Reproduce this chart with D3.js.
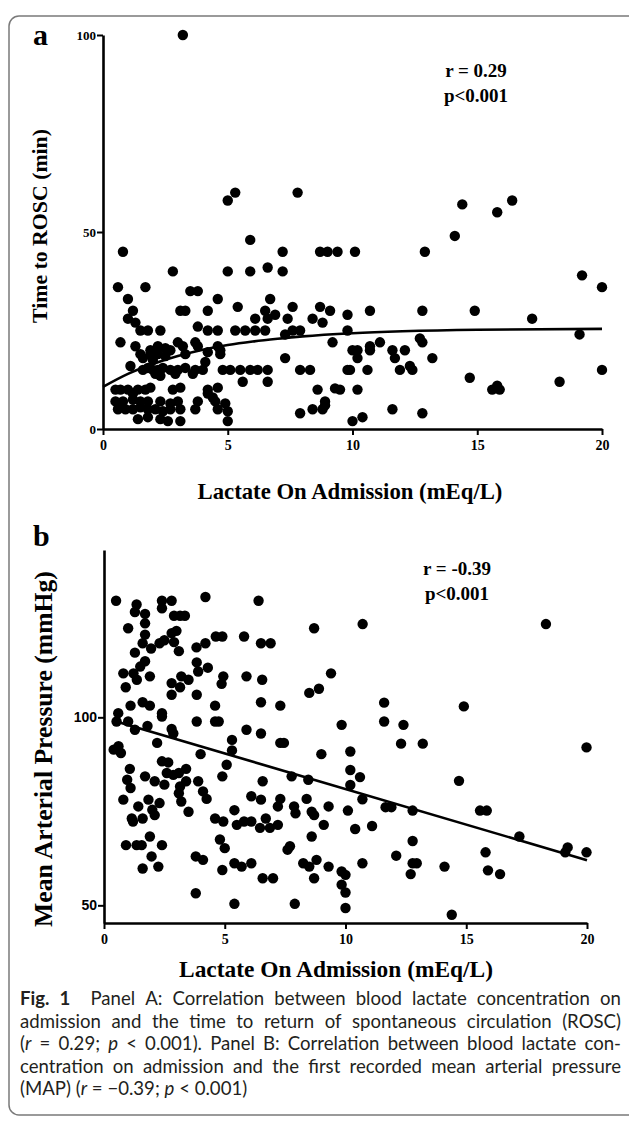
<!DOCTYPE html>
<html><head><meta charset="utf-8">
<script src="https://cdn.jsdelivr.net/npm/d3@7"></script>
<style>body{margin:0;background:#fff}</style>
</head><body>
<script>
// ---------------- data ----------------
const xTicks = [0, 5, 10, 15, 20];
const yTicksA = [0, 50, 100];
const yTicksB = [50, 100];

// Panel A: lactate (mEq/L) vs time to ROSC (min)
const pointsA = [
 [3.2,100],[5.0,58],[5.3,60],[7.8,60],[5.9,48],[0.8,45],[7.2,45],[8.7,45],[9.0,45],[9.4,45],[10.1,45],
 [12.9,45],[14.1,49],[14.4,57],[15.8,55],[16.4,58],[2.8,40],[5.0,40],[5.9,40],[6.6,41],[7.2,40],
 [19.2,39],[20,36],[0.6,36],[1.7,36],[3.5,35],[3.8,35],[1.0,33],[4.6,33],[6.7,33],
 [1.2,30],[3.1,30],[3.3,30],[4.2,30],[5.4,31],[6.5,30],[6.9,29],[7.6,31],[8.7,31],[9.1,30],[9.8,29],
 [10.7,30],[12.8,30],[14.9,30],[17.2,28],[1.0,28],[1.3,27],[6.1,28],[6.6,28],[7.4,28],[8.4,28],[8.8,27],
 [1.5,25],[1.8,25],[2.3,25],[3.8,26],[4.2,25],[4.6,25],[5.3,25],[5.7,25],[6.1,25],[6.5,25],[7.3,24],
 [7.6,25],[7.9,25],[9.8,25],[19.1,24],
 [10.0,20],[10.2,20],[10.2,18],[10.7,21],[10.7,20],[11.1,22],[11.6,20],[11.7,18],[12.1,20],[12.7,23],
 [12.8,22],[13.2,18],[9.8,15],[10.6,15],[11.9,15],[12.3,16],[12.4,15],[14.7,13],[15.6,10],[15.8,11],
 [15.9,10],[18.3,12],[10.2,10],[9.5,10],[11.6,5],[12.8,4],[10.0,2],[10.4,3],[20,15],
 [0.7,22],[3.0,22],[3.7,22],[9.2,22],
 [1.3,21],[1.9,20],[2.2,21],[2.5,20.5],[2.7,20],[3.2,21],[3.8,21],[4.6,21],[4.7,20],
 [1.5,19],[1.9,19],[2.2,19],[2.5,18.5],[3.3,19],[4.2,19.5],[4.7,19],
 [7.3,18],[1.6,18],[2.0,17.5],[4.1,17],
 [1.1,16],[1.6,15],[1.8,15.5],[2.0,15],[2.2,15],[2.4,15.5],[2.7,15],[3.0,15],[3.3,15.5],[3.7,15],
 [4.0,15],[4.8,15],[5.1,15],[5.5,15],[5.9,15],[6.2,15],[6.6,15],[7.9,15],[8.3,15],[9.9,15],
 [2.1,14],[2.3,13.5],[2.9,14],[3.6,14],[5.6,12],[6.6,12],
 [0.5,10],[0.7,10],[1.0,10],[1.4,10],[1.7,10],[1.9,10.5],[2.8,10],[3.1,10.5],[4.2,10],[4.6,10.5],[8.6,10],[9.3,10.3],
 [1.2,9],[4.2,9],[4.4,8],
 [0.5,7],[0.8,7],[1.2,7.5],[1.5,7],[1.8,7],[2.3,7],[2.7,6.5],[3.0,7],[3.8,7],[4.5,7],[4.9,6.5],[8.9,7],
 [0.6,5],[0.9,5],[1.2,5],[1.5,5.5],[1.8,5],[2.1,5],[2.4,4.5],[2.7,5],[3.1,5],[3.7,5],[4.6,5],[5.0,4.5],
 [7.9,4],[8.4,5],[8.8,5],[8.9,6],
 [1.4,2.5],[1.8,3],[2.3,2.5],[2.6,2],[3.1,2],[5.0,2]
];
// fitted curve
const fitAx = [0, 1, 2, 3, 4, 5, 6, 7, 8, 10, 12, 15, 20];
const fitAy = [10.7, 14.0, 16.5, 18.5, 20.1, 21.3, 22.2, 22.9, 23.5, 24.3, 24.8, 25.2, 25.4];

// Panel B: lactate (mEq/L) vs mean arterial pressure (mmHg)
const pointsB = [
 [0.5,131],[1.35,130],[1.28,128],[1.7,127.5],[2.4,131],[2.8,131],[2.4,129],[4.2,132],[6.4,131],
 [2.9,127],[3.15,127],[3.35,127],[1.0,123.7],[1.7,125],[1.7,122],[1.6,119.7],[1.95,118.3],[2.3,119.7],
 [2.5,120.5],[1.28,117.2],[2.8,122.4],[3.0,123],[2.9,120],[3.1,117.6],[3.83,118.6],[4.2,119.7],
 [4.63,121.5],[4.9,121.5],[5.8,121.5],[6.5,119.7],[6.9,119.7],[8.7,123.7],
 [0.8,111.7],[1.22,111.7],[1.5,113.5],[1.7,114.9],[1.36,110],[0.9,108],[1.9,110.9],[2.8,109.1],
 [3.15,108],[3.2,110.9],[3.5,110],[3.84,114.6],[3.9,112.2],[4.3,113.2],[4.94,110.9],[4.87,108.9],
 [5.9,110.9],[6.55,110],[8.5,106.5],[8.9,107.6],[9.4,111.7],[2.8,106],[3.84,106],
 [1.1,103.1],[1.6,104],[1.9,103.1],[2.4,101.1],[2.4,100.2],[4.6,103.1],[6.5,104],[7.3,103.1],
 [0.59,101.1],[0.52,98.9],[1.0,98.9],[1.28,96.7],[1.8,97.7],[2.8,96.9],[2.87,95.7],[3.84,98.9],
 [4.6,98.9],[4.75,98.9],[5.9,96.7],[6.5,95.7],[9.84,98],[2.2,93.2],[5.3,94],[5.3,91.2],[7.3,93.2],
 [7.45,93.2],[0.4,91.4],[0.7,90.5],[0.6,92.3],[4.0,90.2],[9.0,90.2],[10.2,90.9],[1.07,86.3],
 [2.4,88.3],[2.66,88],[3.4,86.3],[5.08,87.4],[10.2,86],
 [0.96,83.4],[1.1,81.2],[0.8,78.1],[1.7,84.3],[2.1,83],[2.6,85.2],[2.5,82.1],[2.87,84.7],[3.1,85.2],
 [3.4,83],[3.15,81.6],[3.1,79.8],[3.2,77.6],[3.5,74.9],[3.9,83],[4.1,80.3],[4.25,78.3],[4.9,84.3],
 [1.42,76.3],[1.84,78.1],[2.3,77.2],[1.6,73.1],[2.0,75.4],[2.1,74],[1.15,73.1],[1.2,72.3],[1.9,68.3],
 [2.4,66],[0.91,66],[1.35,66],[1.56,66],[1.97,63],[1.6,59.8],[2.25,60.3],[3.8,63],[4.1,62.1],[3.8,53.2],
 [4.6,73.1],[4.94,72.3],[4.8,67.5],[5.0,65.2],[4.9,59.4],[5.4,75.3],[5.5,71.4],[5.8,72.3],[6.1,72.3],
 [5.4,61.2],[5.7,60.3],[6.1,61.2],[5.4,50.4],[6.1,79],[6.5,78.1],[6.57,83],[6.46,70.6],[6.7,73.1],
 [6.87,70.6],[7.2,71.4],[7.2,76.3],[7.3,78.3],[6.57,57.2],[7.0,57.2],[7.77,84.3],[7.87,76.3],[7.93,74.5],
 [7.6,64.8],[7.7,65.7],[7.9,50.4],[8.46,83.4],[8.39,78.3],[8.6,74.9],[8.7,74],[9.1,71.4],[9.3,76.3],
 [8.6,68.3],[8.8,62.1],[8.25,61.2],[8.5,60.3],[8.7,57.2],[9.3,60.3],
 [10.71,124.8],[18.3,124.8],[11.6,103.9],[11.6,98.9],[12.4,98],[12.3,93],[13.2,93],[14.9,102.9],
 [10.6,84.1],[10.2,82],[10.7,78.2],[10.1,75.2],[10.4,70.3],[11.1,71.1],[11.66,76.1],[11.9,76.1],
 [12.78,75.2],[12.78,67.1],[12.1,63.2],[12.78,61.2],[12.95,61.2],[12.7,58.3],[14.1,60.3],[10.7,61.2],
 [9.84,59],[10.0,58.1],[9.84,55.5],[10.0,53.4],[10.0,49.3],[14.7,83.1],[15.57,75.2],[15.85,75.2],
 [15.8,64.1],[15.9,59.3],[16.4,58.3],[17.2,68.3],[19.2,65.4],[19.1,64.1],[19.98,64.1],[19.98,92],[14.4,47.5]
];
const fitBx = [0.4, 20];
const fitBy = [99.1, 62.0];

const statsA = ["r = 0.29", "p<0.001"];
const statsB = ["r = -0.39", "p<0.001"];
const xTitle = "Lactate On Admission (mEq/L)";
const yTitleA = "Time to ROSC (min)";
const yTitleB = "Mean Arterial Pressure (mmHg)";
const captionLines = [
  [["Fig. 1","b"],["  Panel A: Correlation between blood lactate concentration on",""]],
  [["admission and the time to return of spontaneous circulation (ROSC)",""]],
  [["(",""],["r","i"],[" = 0.29; ",""],["p","i"],[" < 0.001). Panel B: Correlation between blood lactate con-",""]],
  [["centration on admission and the first recorded mean arterial pressure",""]],
  [["(MAP) (",""],["r","i"],[" = \u22120.39; ",""],["p","i"],[" < 0.001)",""]]
];

// ---------------- drawing ----------------
const W = 629, H = 1128;
const SERIF = "'Liberation Serif','Times New Roman',serif";
const SANS = "'Liberation Sans',Arial,sans-serif";
const CAPF = "Lato,'Noto Sans',sans-serif";
const svg = d3.select("body").append("svg").attr("width", W).attr("height", H);

svg.append("rect").attr("x", 9).attr("y", 16).attr("width", 640).attr("height", 1099)
  .attr("rx", 10).attr("fill", "none").attr("stroke", "#7a7a7a").attr("stroke-width", 1.5);

function fitWidth(sel, target) {
  const n = sel.node(); const fs = parseFloat(sel.attr("font-size"));
  const len = n.getComputedTextLength();
  sel.attr("font-size", fs * target / len);
}

function panel(cfg) {
  const g = svg.append("g");
  const x = d3.scaleLinear().domain([0, 20]).range(cfg.xr);
  const y = d3.scaleLinear().domain(cfg.yd).range(cfg.yr);

  const xa = g.append("g").attr("transform", `translate(0,${cfg.yr[0]})`)
    .call(d3.axisBottom(x).tickValues(xTicks).tickSize(6).tickSizeOuter(0).tickPadding(5));
  const ya = g.append("g").attr("transform", `translate(${cfg.xr[0]},0)`)
    .call(d3.axisLeft(y).tickValues(cfg.yTicks).tickSize(6).tickSizeOuter(0).tickPadding(1));
  [xa, ya].forEach(a => {
    a.select(".domain").attr("stroke", "#000").attr("stroke-width", 2.6);
    a.selectAll(".tick line").attr("stroke", "#000").attr("stroke-width", 2);
  });
  xa.selectAll("text").attr("font-family", SERIF).attr("font-weight", "bold")
    .attr("font-size", 14).attr("fill", "#000");
  ya.selectAll("text").attr("font-family", cfg.yFont).attr("font-weight", "bold")
    .attr("font-size", cfg.yFs).attr("fill", "#000");

  if (cfg.curve) {
    g.append("path").datum(cfg.fx.map((v, i) => [v, cfg.fy[i]]))
      .attr("d", d3.line().x(d => x(d[0])).y(d => y(d[1])).curve(d3.curveMonotoneX))
      .attr("fill", "none").attr("stroke", "#000").attr("stroke-width", 2.6);
  }
  g.selectAll("circle").data(cfg.pts).join("circle")
    .attr("cx", d => x(d[0])).attr("cy", d => y(d[1])).attr("r", 5.2).attr("fill", "#000");
  if (!cfg.curve) {
    g.append("path").datum(cfg.fx.map((v, i) => [v, cfg.fy[i]]))
      .attr("d", d3.line().x(d => x(d[0])).y(d => y(d[1])))
      .attr("fill", "none").attr("stroke", "#000").attr("stroke-width", 2.6);
  }

  g.append("text").attr("x", 33).attr("y", cfg.letterY).text(cfg.letter)
    .attr("font-family", SERIF).attr("font-weight", "bold").attr("font-size", 30);
  cfg.stats.forEach((s, i) => {
    g.append("text").attr("x", cfg.statX).attr("y", cfg.statY + i * 25).attr("text-anchor", "middle")
      .text(s).attr("font-family", SERIF).attr("font-weight", "bold").attr("font-size", 19);
  });
  const xt = g.append("text").attr("x", cfg.xtX).attr("y", cfg.xtY).attr("text-anchor", "middle")
    .text(xTitle).attr("font-family", SERIF).attr("font-weight", "bold").attr("font-size", 22);
  fitWidth(xt, cfg.xtW);
  const yt = g.append("text").attr("transform", `translate(${cfg.ytX},${cfg.ytY}) rotate(-90)`)
    .attr("text-anchor", "middle").attr("dominant-baseline", "central")
    .text(cfg.yTitle).attr("font-family", SERIF).attr("font-weight", "bold").attr("font-size", 22);
  fitWidth(yt, cfg.ytW);
}

panel({
  xr: [103, 602], yd: [0, 100], yr: [429, 35], yTicks: yTicksA, yFont: SERIF, yFs: 13,
  pts: pointsA, curve: true, fx: fitAx, fy: fitAy,
  letter: "a", letterY: 45, stats: statsA, statX: 476, statY: 77,
  xtX: 350, xtY: 499, xtW: 305, yTitle: yTitleA, ytX: 40, ytY: 226, ytW: 194
});
panel({
  xr: [104, 587], yd: [45.3, 144.5], yr: [923, 550], yTicks: yTicksB, yFont: SANS, yFs: 14,
  pts: pointsB, curve: false, fx: fitBx, fy: fitBy,
  letter: "b", letterY: 546, stats: statsB, statX: 457, statY: 575,
  xtX: 336, xtY: 977, xtW: 314, yTitle: yTitleB, ytX: 43, ytY: 749, ytW: 356
});

// ---------------- caption (justified, word by word) ----------------
const capX = 20, capRight = 621, capY0 = 1005, capLH = 22.5;
function wordsOf(segs) {
  const words = [[]];
  segs.forEach(([s, st]) => {
    s.split(" ").forEach((p, pi) => {
      if (pi > 0) words.push([]);
      if (p) words[words.length - 1].push([p, st]);
    });
  });
  return words;
}
function makeWord(parent, word, fs, y) {
  const t = parent.append("text").attr("y", y).attr("font-family", CAPF)
    .attr("font-size", fs).attr("fill", "#231f20");
  word.forEach(([s, st]) => {
    const ts = t.append("tspan").text(s);
    if (st === "b") ts.attr("font-weight", "bold");
    if (st === "i") ts.attr("font-style", "italic");
  });
  return t;
}
const capG = svg.append("g");
function spaceW(fs) {
  const a = capG.append("text").attr("font-family", CAPF).attr("font-size", fs).text("a a");
  const b = capG.append("text").attr("font-family", CAPF).attr("font-size", fs).text("aa");
  const w = a.node().getComputedTextLength() - b.node().getComputedTextLength();
  a.remove(); b.remove(); return w;
}
const line4 = wordsOf(captionLines[3]);
let w16 = 0;
line4.forEach(wd => { const t = makeWord(capG, wd, 16, -100); w16 += t.node().getComputedTextLength(); t.remove(); });
w16 += spaceW(16) * (line4.length - 1);
const capFs = Math.min(18.6, 16 * (capRight - capX) / w16);
const sp = spaceW(capFs);

captionLines.forEach((segs, li) => {
  const words = wordsOf(segs);
  const y = capY0 + li * capLH;
  const els = words.map(wd => wd.length ? makeWord(capG, wd, capFs, y) : null);
  const widths = els.map(e => e ? e.node().getComputedTextLength() : 0);
  const total = d3.sum(widths);
  const last = li === captionLines.length - 1;
  const gap = last ? sp : (capRight - capX - total) / (words.length - 1);
  let cx = capX;
  els.forEach((e, i) => {
    if (e) e.attr("x", cx);
    cx += widths[i] + gap;
  });
});
</script>
</body></html>
